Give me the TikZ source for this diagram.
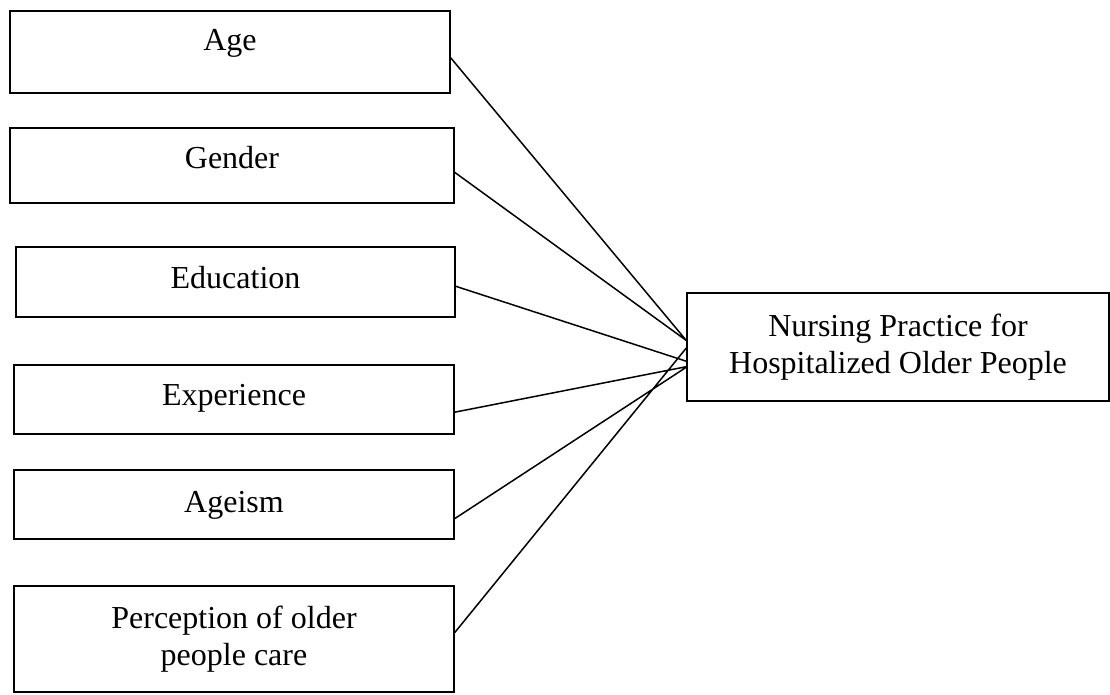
\documentclass[tikz,border=0pt]{standalone}
\usepackage{fontspec}
\setmainfont{Liberation Serif}
\usepackage{tikz}
\usetikzlibrary{calc}
\usetikzlibrary{positioning}

\begin{document}
\begin{tikzpicture}[x=1pt, y=-1pt, line width=1.5pt,
    factor/.style={draw, inner sep=0pt, minimum width=440pt, anchor=base},
    outcome/.style={draw, inner sep=0pt, minimum width=422pt, minimum height=108pt, align=center}]
        \useasboundingbox (0,0) rectangle (1110,695);
        \fontsize{32}{37}\selectfont
        \node[factor, text height=40pt, text depth=42pt] (age) at (230,51) {Age};
        \node[factor, minimum width=444pt, text height=40pt, text depth=35pt] (gender) at (232,168) {Gender};
        \node[factor, minimum width=439pt, text height=41pt, text depth=29pt] (educ) at (235.5,288) {Education};
        \node[factor, text height=40pt, text depth=29pt] (exper) at (234,405) {Experience};
        \node[factor, text height=42pt, text depth=27pt] (ageism) at (234,512) {Ageism};
        \node[draw, inner sep=0pt, minimum width=440pt, minimum height=106pt, align=center] (percep) at (234,639) {Perception of older\\people care};
        \node[outcome] (practice) at (898,347) {Nursing Practice for\\Hospitalized Older People};

        \draw
        ($(age.north east)!0.57!(age.south east)$) -- ($(practice.north west)!0.44!(practice.south west)$)
        ($(gender.north east)!0.59!(gender.south east)$) -- ($(practice.north west)!0.44!(practice.south west)$)
        ($(educ.north east)!0.56!(educ.south east)$) -- ($(practice.north west)!0.63!(practice.south west)$)
        ($(exper.north east)!0.68!(exper.south east)$) -- ($(practice.north west)!0.68!(practice.south west)$)
        ($(ageism.north east)!0.70!(ageism.south east)$) -- ($(practice.north west)!0.685!(practice.south west)$)
        ($(percep.north east)!0.44!(percep.south east)$) -- ($(practice.north west)!0.51!(practice.south west)$);
    \end{tikzpicture}
\end{document}
